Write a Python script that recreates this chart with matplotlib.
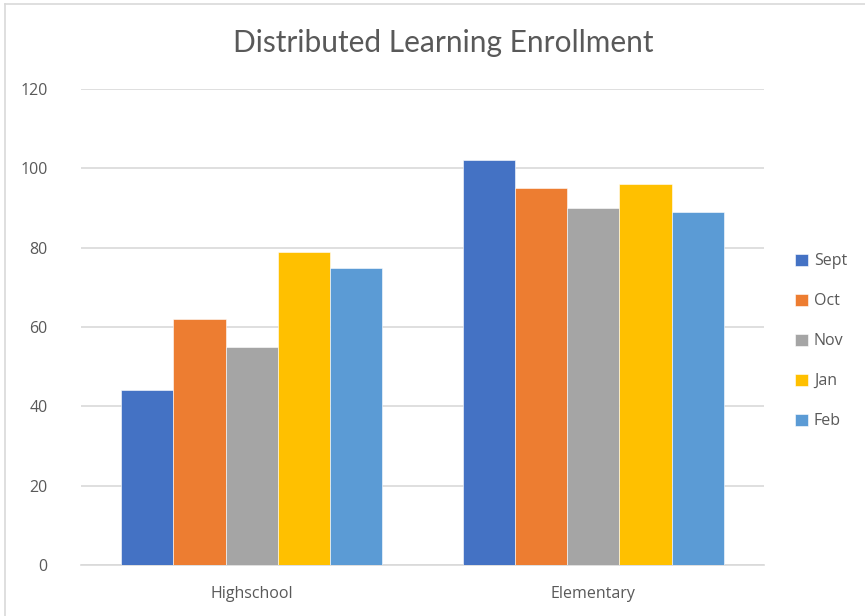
import matplotlib
matplotlib.use("Agg")
import matplotlib.pyplot as plt
from matplotlib.lines import Line2D
import numpy as np

categories = ["Highschool", "Elementary"]
months = ["Sept", "Oct", "Nov", "Jan", "Feb"]
sept = [44, 102]
octo = [62, 95]
nov = [55, 90]
jan = [79, 96]
feb = [75, 89]
series = [sept, octo, nov, jan, feb]
colors = ["#4472C4", "#ED7D31", "#A5A5A5", "#FFC000", "#5B9BD5"]
yticks = [0, 20, 40, 60, 80, 100, 120]

plt.rcParams["font.family"] = ["Open Sans", "DejaVu Sans"]

fig = plt.figure(figsize=(8.65, 6.16), dpi=100)
ax = fig.add_axes([81 / 865, 51 / 616, 683 / 865, 476 / 616])

x = np.arange(len(categories))
width = 0.153
n = len(series)
for i, (vals, name, c) in enumerate(zip(series, months, colors)):
    offs = (i - (n - 1) / 2) * width
    ax.bar(x + offs, vals, width, color=c, label=name, zorder=3,
           edgecolor="white", linewidth=0.4)

ax.set_xlim(-0.5, 1.5)
ax.set_ylim(0, 120)
ax.set_yticks(yticks)
ax.set_xticks(x)
ax.set_xticklabels(categories)
ax.grid(axis="y", color="#d9d9d9", linewidth=1.2, zorder=0)
for s in ["top", "right", "left"]:
    ax.spines[s].set_visible(False)
ax.spines["bottom"].set_color("#d9d9d9")
ax.spines["bottom"].set_linewidth(1.2)
ax.tick_params(axis="both", length=0, colors="#595959", labelsize=11.5)
ax.tick_params(axis="y", pad=24)
ax.tick_params(axis="x", pad=15)

fig.text(0.512, 0.93, "Distributed Learning Enrollment", ha="center",
         va="center", fontsize=21.5, color="#595959",
         family=["Lato", "DejaVu Sans"])

leg = ax.legend(loc="center left", bbox_to_anchor=(1.025, 0.47), frameon=False,
                fontsize=11.5, labelspacing=1.5, handlelength=0.8,
                handleheight=0.8, handletextpad=0.35, labelcolor="#595959")

# chart-area frame (top and left edges)
fig.add_artist(Line2D([5 / 865, 5 / 865], [0, 1 - 4 / 616],
                      transform=fig.transFigure, color="#d9d9d9", linewidth=1.2))
fig.add_artist(Line2D([5 / 865, 1], [1 - 4 / 616, 1 - 4 / 616],
                      transform=fig.transFigure, color="#d9d9d9", linewidth=1.2))

fig.savefig("out.png", dpi=100)
